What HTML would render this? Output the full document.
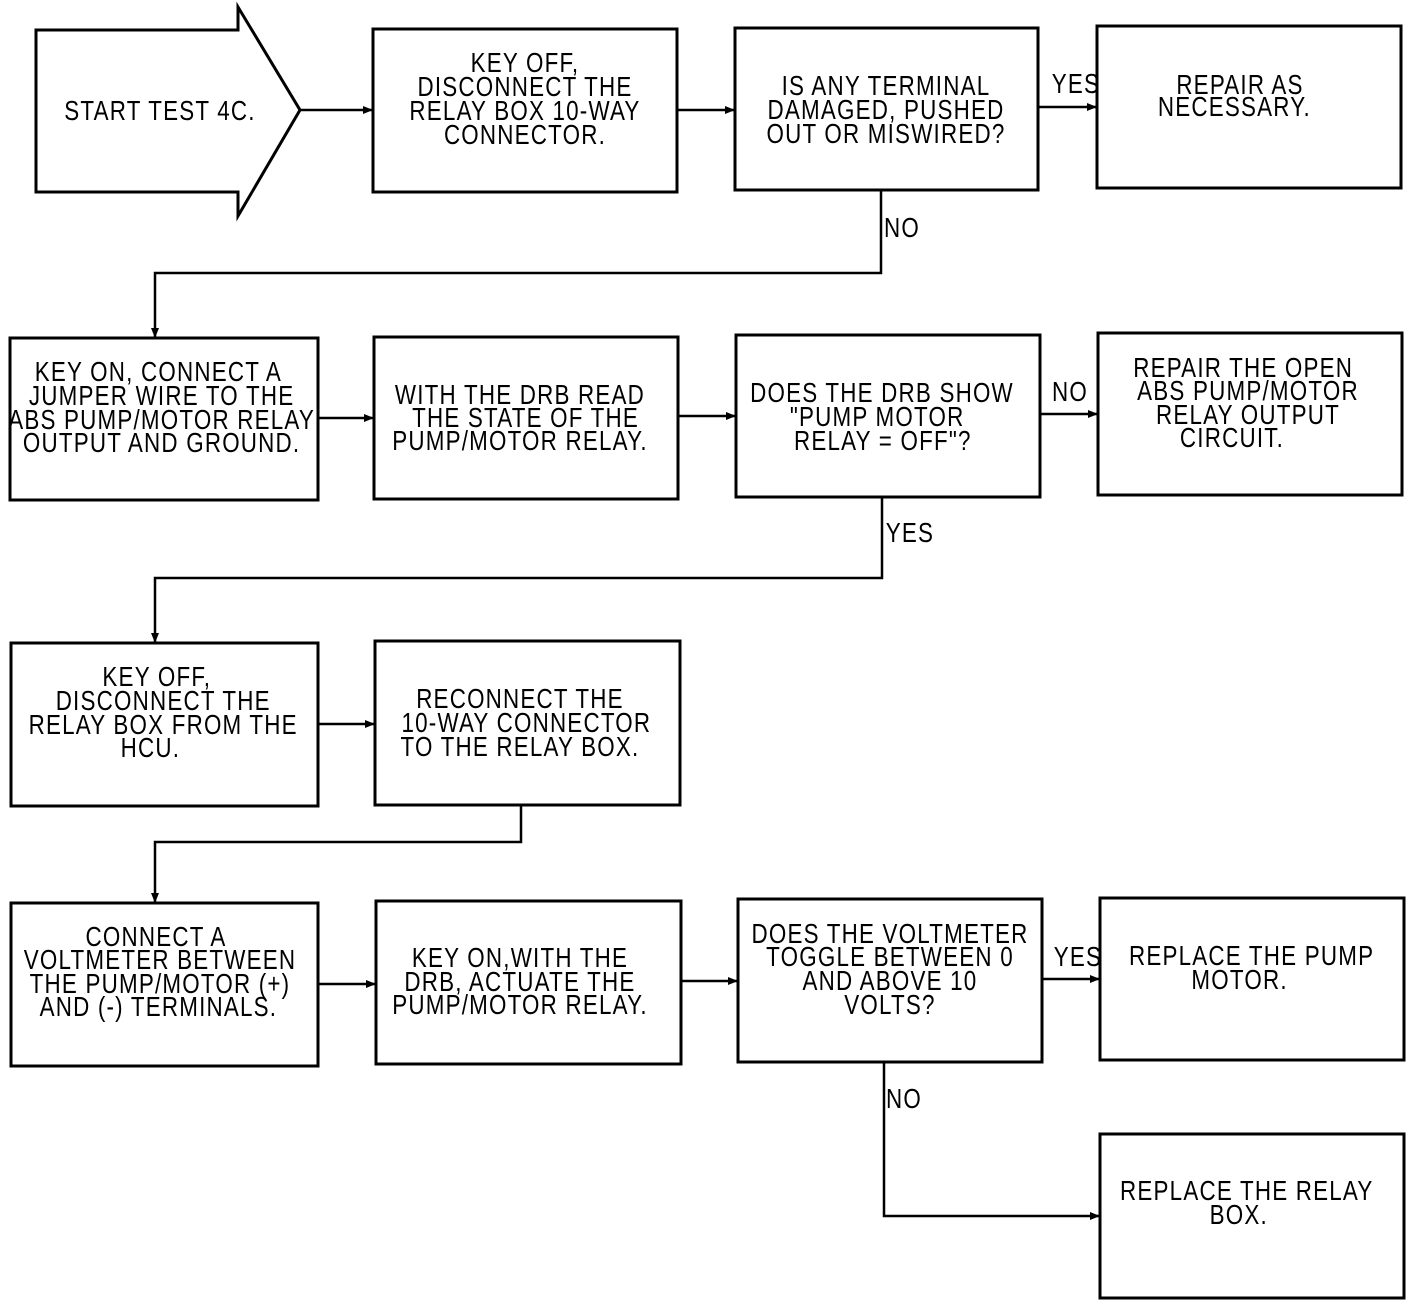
<!DOCTYPE html>
<html><head><meta charset="utf-8"><style>
html,body{margin:0;padding:0;background:#fff}
svg text{font-family:"Liberation Sans",sans-serif;font-size:28px;fill:#000;text-anchor:middle;letter-spacing:1.5px}
</style></head><body>
<svg width="1424" height="1306" viewBox="0 0 1424 1306" xmlns="http://www.w3.org/2000/svg">
<defs><marker id="a" markerWidth="10" markerHeight="10" refX="9" refY="5" orient="auto" markerUnits="userSpaceOnUse"><path d="M0,1 L10,5 L0,9 Z" fill="#000"/></marker></defs>
<g fill="none" stroke="#000" stroke-width="3">
<path d="M36,30 H238 V7 L300,110 L238,216 V192 H36 Z"/>
<rect x="373" y="29" width="304" height="163"/>
<rect x="735" y="28" width="303" height="162"/>
<rect x="1097" y="26" width="304" height="162"/>
<rect x="10" y="338" width="308" height="162"/>
<rect x="374" y="337" width="304" height="162"/>
<rect x="736" y="335" width="304" height="162"/>
<rect x="1098" y="333" width="304" height="162"/>
<rect x="11" y="643" width="307" height="163"/>
<rect x="375" y="641" width="305" height="164"/>
<rect x="11" y="903" width="307" height="163"/>
<rect x="376" y="901" width="305" height="163"/>
<rect x="738" y="899" width="304" height="163"/>
<rect x="1100" y="898" width="304" height="162"/>
<rect x="1100" y="1134" width="304" height="164"/>
</g>
<g fill="none" stroke="#000" stroke-width="2.5" marker-end="url(#a)">
<path d="M300,110 H372"/>
<path d="M677,110 H734"/>
<path d="M1038,107 H1096"/>
<path d="M881,190 V273 H155 V337"/>
<path d="M318,418 H373"/>
<path d="M678,416 H735"/>
<path d="M1040,414 H1097"/>
<path d="M882,497 V578 H155 V642"/>
<path d="M318,724 H374"/>
<path d="M521,805 V842 H155 V902"/>
<path d="M318,984 H375"/>
<path d="M681,981 H737"/>
<path d="M1042,979 H1099"/>
<path d="M884,1062 V1216 H1099"/>
</g>
<g transform="matrix(0.8,0,0,1,32,0)"><text x="160" y="120">START TEST 4C.</text></g>
<g transform="matrix(0.8,0,0,1,105,0)">
<text x="525" y="72">KEY OFF,</text>
<text x="525" y="96">DISCONNECT THE</text>
<text x="525" y="120">RELAY BOX 10-WAY</text>
<text x="525" y="144">CONNECTOR.</text></g>
<g transform="matrix(0.8,0,0,1,177.2,0)">
<text x="886" y="95">IS ANY TERMINAL</text>
<text x="886" y="119">DAMAGED, PUSHED</text>
<text x="886" y="143">OUT OR MISWIRED?</text></g>
<g transform="matrix(0.8,0,0,1,248,0)">
<text x="1240" y="94">REPAIR AS</text>
<text x="1233" y="116">NECESSARY.</text></g>
<g transform="matrix(0.8,0,0,1,215.2,0)"><text x="1076" y="93">YES</text></g>
<g transform="matrix(0.8,0,0,1,180.4,0)"><text x="902" y="237">NO</text></g>
<g transform="matrix(0.8,0,0,1,32,0)">
<text x="158" y="381">KEY ON, CONNECT A</text>
<text x="162" y="405">JUMPER WIRE TO THE</text>
<text x="162" y="429">ABS PUMP/MOTOR RELAY</text>
<text x="162" y="452">OUTPUT AND GROUND.</text></g>
<g transform="matrix(0.8,0,0,1,104,0)">
<text x="520" y="404">WITH THE DRB READ</text>
<text x="527" y="427">THE STATE OF THE</text>
<text x="520" y="450">PUMP/MOTOR RELAY.</text></g>
<g transform="matrix(0.8,0,0,1,176.4,0)">
<text x="882" y="402">DOES THE DRB SHOW</text>
<text x="876" y="426">"PUMP MOTOR</text>
<text x="883" y="450">RELAY = OFF"?</text></g>
<g transform="matrix(0.8,0,0,1,248,0)">
<text x="1244" y="377">REPAIR THE OPEN</text>
<text x="1250" y="400">ABS PUMP/MOTOR</text>
<text x="1250" y="424">RELAY OUTPUT</text>
<text x="1230" y="447">CIRCUIT.</text></g>
<g transform="matrix(0.8,0,0,1,214,0)"><text x="1070" y="401">NO</text></g>
<g transform="matrix(0.8,0,0,1,182,0)"><text x="910" y="542">YES</text></g>
<g transform="matrix(0.8,0,0,1,32,0)">
<text x="156" y="686">KEY OFF,</text>
<text x="164" y="710">DISCONNECT THE</text>
<text x="164" y="734">RELAY BOX FROM THE</text>
<text x="148" y="757">HCU.</text></g>
<g transform="matrix(0.8,0,0,1,104,0)">
<text x="520" y="708">RECONNECT THE</text>
<text x="528" y="732">10-WAY CONNECTOR</text>
<text x="520" y="756">TO THE RELAY BOX.</text></g>
<g transform="matrix(0.8,0,0,1,32,0)">
<text x="155" y="946">CONNECT A</text>
<text x="160" y="969">VOLTMETER BETWEEN</text>
<text x="160" y="993">THE PUMP/MOTOR (+)</text>
<text x="158" y="1016">AND (-) TERMINALS.</text></g>
<g transform="matrix(0.8,0,0,1,104,0)">
<text x="520" y="967">KEY ON,WITH THE</text>
<text x="520" y="991">DRB, ACTUATE THE</text>
<text x="520" y="1014">PUMP/MOTOR RELAY.</text></g>
<g transform="matrix(0.8,0,0,1,178,0)">
<text x="890" y="943">DOES THE VOLTMETER</text>
<text x="890" y="966">TOGGLE BETWEEN 0</text>
<text x="890" y="990">AND ABOVE 10</text>
<text x="890" y="1014">VOLTS?</text></g>
<g transform="matrix(0.8,0,0,1,250,0)">
<text x="1252" y="965">REPLACE THE PUMP</text>
<text x="1237" y="989">MOTOR.</text>
<text x="1246" y="1200">REPLACE THE RELAY</text>
<text x="1236" y="1224">BOX.</text></g>
<g transform="matrix(0.8,0,0,1,215.6,0)"><text x="1078" y="966">YES</text></g>
<g transform="matrix(0.8,0,0,1,180.8,0)"><text x="904" y="1108">NO</text></g>
</svg>
</body></html>
